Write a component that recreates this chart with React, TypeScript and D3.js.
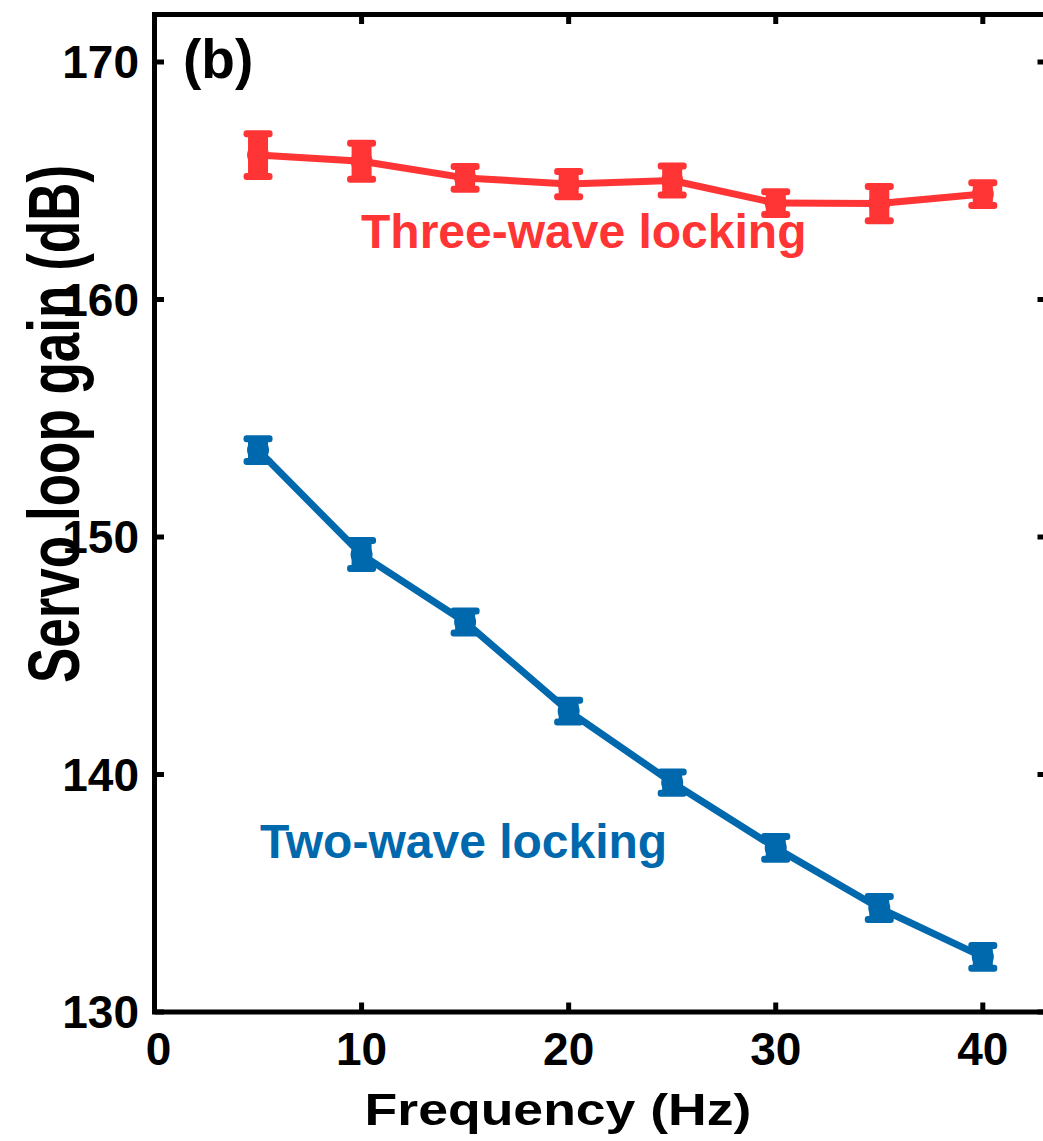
import React from "react";
import * as d3 from "d3";

// Modulation frequency (Hz)
const freqs = [5, 10, 15, 20, 25, 30, 35, 40];

// Servo loop gain (dB) and error bars for each locking scheme
const threeWaveGain = [166.08, 165.82, 165.12, 164.86, 165.01, 164.06, 164.04, 164.44];
const threeWaveErr = [0.9, 0.76, 0.48, 0.53, 0.61, 0.48, 0.72, 0.48];
const twoWaveGain = [153.66, 149.26, 146.42, 142.67, 139.66, 136.91, 134.38, 132.32];
const twoWaveErr = [0.48, 0.59, 0.46, 0.46, 0.45, 0.48, 0.48, 0.48];

const xTicks = [0, 10, 20, 30, 40];
const yTicks = [130, 140, 150, 160, 170];

const RED = "#ff3434";
const BLUE = "#0068ad";
const FONT = "'Liberation Sans', Arial, Helvetica, sans-serif";

const W = 1043;
const H = 1141;
const left = 154.5;
const right = 1047;
const top = 14.5;
const bottom = 1012;

export default function App() {
  const x = d3.scaleLinear().domain([0, 43.1]).range([left, right]);
  const y = d3.scaleLinear().domain([130, 172]).range([bottom, top]);

  const series = [
    { gain: threeWaveGain, err: threeWaveErr, color: RED },
    { gain: twoWaveGain, err: twoWaveErr, color: BLUE },
  ];

  const line = d3
    .line<number>()
    .x((_, i) => x(freqs[i]))
    .y((d) => y(d));

  const tickLen = 7;

  return (
    <svg
      width={W}
      height={H}
      style={{ position: "absolute", left: 0, top: 0, background: "#fff" }}
      fontFamily={FONT}
    >
      {/* data series: line, then error bars with caps and a marker */}
      {series.map((s, si) => (
        <g key={si}>
          <path d={line(s.gain) ?? ""} fill="none" stroke={s.color} strokeWidth={7} strokeLinejoin="round" />
          {s.gain.map((v, i) => {
            const cx = x(freqs[i]);
            const y0 = y(v + s.err[i]);
            const y1 = y(v - s.err[i]);
            return (
              <g key={i} fill={s.color}>
                <rect x={cx - 10} y={y0} width={20} height={y1 - y0} />
                <rect x={cx - 14.5} y={y0 - 3.5} width={29} height={7} rx={3} />
                <rect x={cx - 14.5} y={y1 - 3.5} width={29} height={7} rx={3} />
                <circle cx={cx} cy={y(v)} r={11} />
              </g>
            );
          })}
        </g>
      ))}

      {/* frame */}
      <rect
        x={left}
        y={top}
        width={right - left}
        height={bottom - top}
        fill="none"
        stroke="#000"
        strokeWidth={5}
      />

      {/* x ticks */}
      {xTicks.map((t) => (
        <g key={"x" + t}>
          <line x1={x(t)} x2={x(t)} y1={bottom} y2={bottom - tickLen - 2.5} stroke="#000" strokeWidth={5} />
          <line x1={x(t)} x2={x(t)} y1={top} y2={top + tickLen + 2.5} stroke="#000" strokeWidth={5} />
          <text x={x(t) + (t === 0 ? 4 : 0)} y={1065} textAnchor="middle" fontSize={46} fontWeight="bold">
            {t}
          </text>
        </g>
      ))}

      {/* y ticks */}
      {yTicks.map((t) => (
        <g key={"y" + t}>
          <line x1={left} x2={left + tickLen + 2.5} y1={y(t)} y2={y(t)} stroke="#000" strokeWidth={5} />
          <line x1={right} x2={right - tickLen - 2.5} y1={y(t)} y2={y(t)} stroke="#000" strokeWidth={5} />
          <text x={139} y={y(t) + 16} textAnchor="end" fontSize={46} fontWeight="bold">
            {t}
          </text>
        </g>
      ))}

      {/* panel label */}
      <text x={183} y={78} fontSize={55} fontWeight="bold">
        (b)
      </text>

      {/* series annotations */}
      <text x={361} y={248} fontSize={48} fontWeight="bold" fill={RED}>
        Three-wave locking
      </text>
      <text x={260} y={858} fontSize={48} fontWeight="bold" fill={BLUE}>
        Two-wave locking
      </text>

      {/* axis titles */}
      <text
        transform="translate(558,1125) scale(1.19,1)"
        textAnchor="middle"
        fontSize={45}
        fontWeight="bold"
      >
        Frequency (Hz)
      </text>
      <text
        transform="translate(79,424) scale(1.38,1) rotate(-90)"
        textAnchor="middle"
        fontSize={53}
        fontWeight="bold"
      >
        Servo loop gain (dB)
      </text>
    </svg>
  );
}
